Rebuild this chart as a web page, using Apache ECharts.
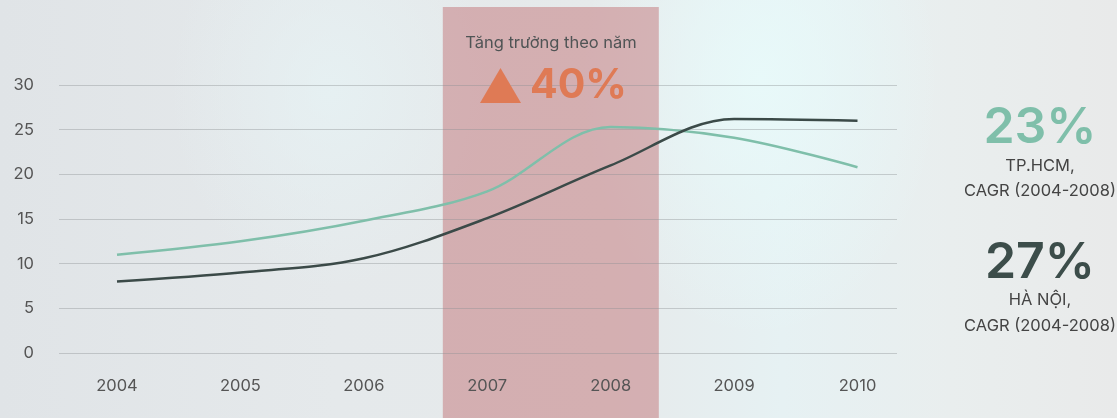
<!DOCTYPE html>
<html>
<head>
<meta charset="utf-8">
<script src="https://cdn.jsdelivr.net/npm/echarts@6/dist/echarts.min.js"></script>
<style>
  html, body { margin: 0; padding: 0; }
  body {
    width: 1117px; height: 418px; overflow: hidden;
    background:
      radial-gradient(ellipse 180px 260px at 760px 80px, rgba(232,250,250,0.9), rgba(232,250,250,0) 100%),
      radial-gradient(ellipse 160px 200px at 330px 90px, rgba(230,242,244,0.8), rgba(230,242,244,0) 100%),
      linear-gradient(90deg, #e0e4e7 0%, #e5e9eb 30%, #e6eaeb 55%, #e6f1f3 70%, #e9eeee 85%, #e9eaea 100%);
  }
  #container { width: 1117px; height: 418px; }
</style>
</head>
<body>
<div id="container"></div>
<script>
// du lieu bieu do
var years = [2004, 2005, 2006, 2007, 2008, 2009, 2010];
var hcm = [11, 12.5, 14.8, 18.1, 25.3, 24.1, 20.8];
var hanoi = [8, 9, 10.6, 15.1, 21, 26.2, 26];
var yTicks = [0, 5, 10, 15, 20, 25, 30];
var highlight = [2006.64, 2008.39];

var dom = document.getElementById("container");
var myChart = echarts.init(dom);
var font = 'Inter, "Noto Sans", sans-serif';

var toPairs = (arr) => years.map((y, i) => [y, arr[i]]);

var option = {
  backgroundColor: 'transparent',
  animation: false,
  textStyle: { fontFamily: font },
  grid: { left: 59, right: 220, top: 85, bottom: 65 },
  xAxis: {
    type: 'value',
    z: 2,
    min: 2003.53,
    max: 2010.32,
    splitNumber: 7,
    axisLine: { show: false },
    axisTick: { show: false },
    splitLine: { show: false },
    axisLabel: {
      margin: 25,
      color: '#555',
      fontSize: 16.5,
      fontFamily: font,
      showMinLabel: false,
      showMaxLabel: false,
      formatter: (v) => (years.indexOf(v) >= 0 ? String(v) : '')
    }
  },
  yAxis: {
    type: 'value',
    z: 2,
    min: yTicks[0],
    max: yTicks[yTicks.length - 1],
    interval: 5,
    axisLine: { show: false },
    axisTick: { show: false },
    axisLabel: { margin: 25, color: '#555', fontSize: 16.5, fontFamily: font },
    splitLine: { lineStyle: { color: 'rgba(140,145,148,0.4)', width: 1 } }
  },
  series: [
    {
      name: 'band',
      type: 'line',
      data: [],
      clip: false,
      z: 1,
      markArea: {
        silent: true,
        itemStyle: { color: 'rgba(194,116,120,0.5)' },
        data: [[{ xAxis: highlight[0], y: 7 }, { xAxis: highlight[1], y: 418 }]]
      }
    },
    {
      name: 'TP.HCM',
      type: 'line',
      smooth: 0.34,
      symbol: 'none',
      z: 3,
      lineStyle: { color: '#7fbfaa', width: 2.5 },
      data: toPairs(hcm)
    },
    {
      name: 'Hà Nội',
      type: 'line',
      smooth: 0.34,
      symbol: 'none',
      z: 3,
      lineStyle: { color: '#3b4a48', width: 2.5 },
      data: toPairs(hanoi)
    }
  ],
  graphic: [
    {
      type: 'text', x: 551, y: 35,
      style: { text: 'Tăng trưởng theo năm', fill: '#4f5455', font: '16.5px ' + font, textAlign: 'center' },
      z: 10
    },
    {
      type: 'polygon',
      shape: { points: [[480, 103], [521, 103], [500.5, 68]] },
      style: { fill: '#df7a55' },
      z: 10
    },
    {
      type: 'text', x: 530, y: 65,
      style: { text: '40%', fill: '#df7a55', font: 'bold 41px ' + font },
      z: 10
    },
    {
      type: 'text', x: 1040, y: 103,
      style: { text: '23%', fill: '#7fbfaa', font: '600 50px ' + font, textAlign: 'center' }
    },
    {
      type: 'text', x: 1040, y: 158,
      style: { text: 'TP.HCM,', fill: '#444', font: '16.5px ' + font, textAlign: 'center' }
    },
    {
      type: 'text', x: 1040, y: 183,
      style: { text: 'CAGR (2004-2008)', fill: '#444', font: '16.5px ' + font, textAlign: 'center' }
    },
    {
      type: 'text', x: 1040, y: 238,
      style: { text: '27%', fill: '#3c4d4a', font: '600 50px ' + font, textAlign: 'center' }
    },
    {
      type: 'text', x: 1040, y: 292,
      style: { text: 'HÀ NỘI,', fill: '#444', font: '16.5px ' + font, textAlign: 'center' }
    },
    {
      type: 'text', x: 1040, y: 318,
      style: { text: 'CAGR (2004-2008)', fill: '#444', font: '16.5px ' + font, textAlign: 'center' }
    }
  ]
};

myChart.setOption(option, true);
</script>
</body>
</html>
